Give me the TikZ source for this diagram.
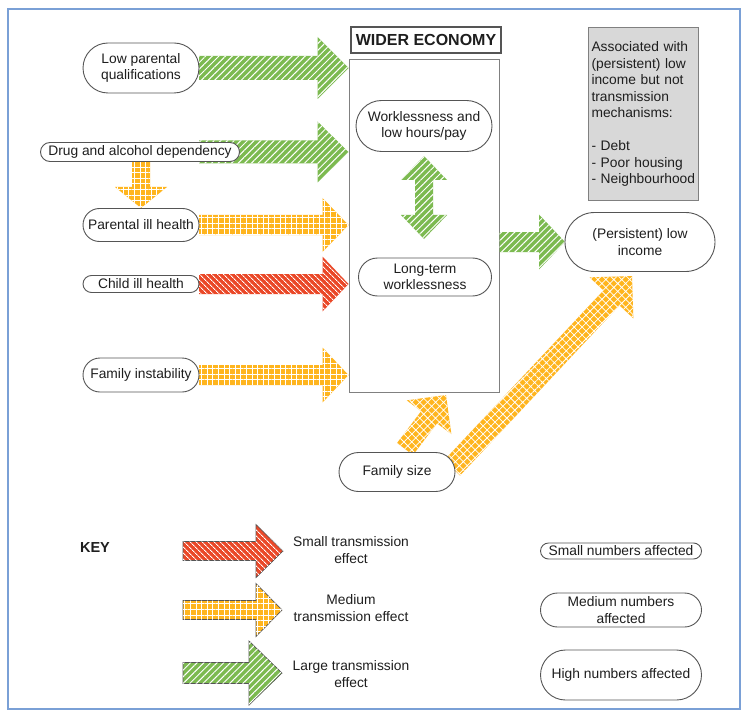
\documentclass[tikz,border=0pt]{standalone}
\usepackage{fontspec}
\setmainfont{Liberation Sans}
\usetikzlibrary{calc,patterns.meta,shapes.misc}
\definecolor{cgreen}{RGB}{124,186,80}
\definecolor{corange}{RGB}{255,181,30}
\definecolor{cred}{RGB}{234,72,40}
\definecolor{cframe}{RGB}{122,160,214}
\definecolor{cline}{RGB}{85,85,85}
\definecolor{ctext}{RGB}{30,30,30}
\definecolor{cgraybox}{RGB}{216,216,216}
% #1 style, #2 start, #3 tip, #4 shaft half width, #5 head half width, #6 head length
\newcommand\fatarrow[6]{%
  \coordinate (fahb) at ($(#3)!#6!(#2)$);
  \path[#1] ($(#2)!#4!90:(#3)$) -- ($(fahb)!#4!90:(#3)$) -- ($(fahb)!#5!90:(#3)$)
    -- (#3) -- ($(fahb)!#5!-90:(#3)$) -- ($(fahb)!#4!-90:(#3)$) -- ($(#2)!#4!-90:(#3)$) -- cycle;
}
\tikzset{
  garrow/.style={fill=cgreen, postaction={pattern={Lines[angle=45,distance=4.7pt,line width=1pt]}, pattern color=white}},
  rarrow/.style={fill=cred, postaction={pattern={Lines[angle=-45,distance=4pt,line width=0.9pt]}, pattern color=white}},
  oarrow/.style={fill=corange, postaction={pattern={Hatch[angle=0,distance=5.6pt,line width=0.75pt]}, pattern color=white}},
  odarrow/.style={fill=corange, postaction={pattern={Hatch[angle=45,distance=5.6pt,line width=0.75pt]}, pattern color=white}},
  keyline/.style={draw=cline, line width=0.7pt},
  box/.style={rounded rectangle, draw=cline, line width=0.9pt, fill=white, align=center, inner sep=0pt, text=ctext},
  every node/.style={font=\fontsize{13.8}{16.5}\selectfont},
}
\begin{document}
\begin{tikzpicture}[x=1pt,y=-1pt]
\useasboundingbox (0,0) rectangle (751,727);
\fill[white] (0,0) rectangle (751,727);
\draw[cframe, line width=1.2pt] (8,9) rectangle (740,709);

% wider economy
\node[draw=cline, line width=1.1pt, minimum width=150, minimum height=26, inner sep=0pt, text=ctext,
      font=\bfseries\fontsize{16}{19}\selectfont] (title) at (426,40) {WIDER ECONOMY};
\node[draw=gray, line width=1pt, fill=white, minimum width=150, minimum height=332, inner sep=0pt] (econ) at (424,226) {};

% gray box
\node[draw=gray, line width=1pt, fill=cgraybox, text width=104, minimum height=173, inner sep=3pt,
      align=left, text=ctext, anchor=north west] (assoc) at (588,27)
  {Associated with\\(persistent) low\\income but not\\transmission\\mechanisms:\\\mbox{}\\- Debt\\- Poor housing\\- Neighbourhood};

% node positions
\path (141,68) coordinate (plpq) (140,152) coordinate (pdrug) (141,225) coordinate (ppih)
      (141,284) coordinate (pcih) (141,375) coordinate (pfi) (640,242) coordinate (ppli)
      (397,472) coordinate (pfs);

% arrows
\coordinate (lpqE) at (199,68);
\coordinate (drugS) at (199,152);
\fatarrow{garrow}{lpqE}{econ.west |- lpqE}{12pt}{31pt}{31pt}
\fatarrow{garrow}{drugS}{econ.west |- drugS}{11.5pt}{30.5pt}{31pt}
\fatarrow{oarrow}{141,160}{141,208}{9pt}{26pt}{21pt}
\fatarrow{oarrow}{199,225}{econ.west |- ppih}{10pt}{27pt}{26pt}
\fatarrow{rarrow}{199,284}{econ.west |- pcih}{10pt}{27.5pt}{26pt}
\fatarrow{oarrow}{199,375}{econ.west |- pfi}{10pt}{27.5pt}{26pt}
\fatarrow{garrow}{econ.east |- ppli}{565,242}{10pt}{27.5pt}{26pt}
\fatarrow{odarrow}{405,449}{446,395}{10pt}{28pt}{28pt}
\fatarrow{odarrow}{452,468}{632,276}{11pt}{30pt}{30pt}
% double arrow
\path[garrow] (424,156) -- (447,180) -- (433,180) -- (433,215) -- (447,215) -- (424,239)
  -- (401,215) -- (415,215) -- (415,180) -- (401,180) -- cycle;

% nodes
\node[box, minimum width=116, minimum height=50] (lpq) at (plpq) {Low parental\\qualifications};
\node[box, minimum width=199, minimum height=19] (drug) at (pdrug) {Drug and alcohol dependency};
\node[box, minimum width=116, minimum height=33] (pih) at (ppih) {Parental ill health};
\node[box, minimum width=116, minimum height=17] (cih) at (pcih) {Child ill health};
\node[box, minimum width=116, minimum height=34] (fi) at (pfi) {Family instability};
\node[box, minimum width=136, minimum height=51] (wlhp) at (424,126) {Worklessness and\\low hours/pay};
\node[box, minimum width=133, minimum height=38] (ltw) at (425,277) {Long-term\\worklessness};
\node[box, minimum width=150, minimum height=59] (pli) at (ppli) {(Persistent) low\\income};
\node[box, minimum width=116, minimum height=39] (fs) at (pfs) {Family size};

% key
\node[text=ctext, font=\bfseries\fontsize{14.5}{17}\selectfont] (key) at (95,548) {KEY};
\fatarrow{rarrow,keyline}{183,551}{283,551}{9.5pt}{26.5pt}{27pt}
\fatarrow{oarrow,keyline}{183,610}{282,610}{9.5pt}{26.5pt}{26pt}
\fatarrow{garrow,keyline}{183,673}{282,673}{10.5pt}{32pt}{33pt}
\node[text=ctext, align=center] (ksm) at (351,550) {Small transmission\\effect};
\node[text=ctext, align=center] (kme) at (351,608) {Medium\\transmission effect};
\node[text=ctext, align=center] (kla) at (351,674) {Large transmission\\effect};
\node[box, minimum width=161, minimum height=16] (ksmall) at (621,551) {Small numbers affected};
\node[box, minimum width=161, minimum height=34] (kmed) at (621,610) {Medium numbers\\affected};
\node[box, minimum width=161, minimum height=50] (khigh) at (621,675) {High numbers affected};
\end{tikzpicture}
\end{document}
